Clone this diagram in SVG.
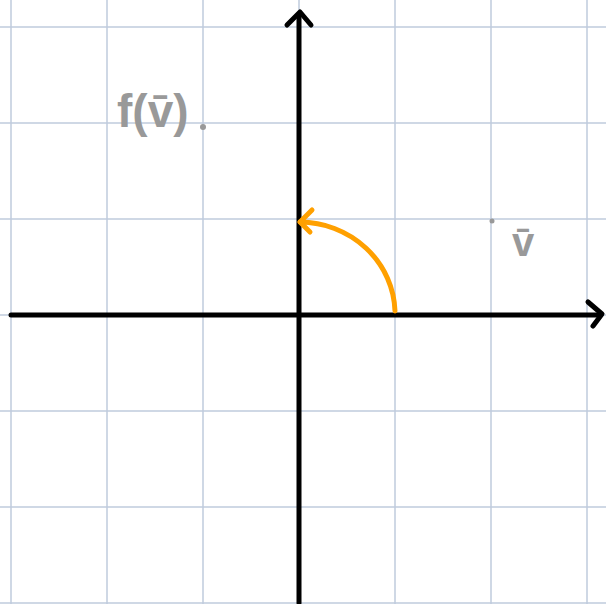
<svg xmlns="http://www.w3.org/2000/svg" width="606" height="604" viewBox="0 0 606 604">
<style>
.grid line{stroke:#bfcbdd;stroke-width:1.5}
.axis{stroke:#000;stroke-width:5;fill:none;stroke-linecap:round;stroke-linejoin:round}
.arc{stroke:#ffa000;stroke-width:5;fill:none;stroke-linecap:round;stroke-linejoin:round}
.lbl{fill:#999;font-family:"Liberation Sans","DejaVu Sans",sans-serif;font-weight:bold}
</style>
<rect width="606" height="604" fill="#fff"/>
<g class="grid">
<line x1="11" y1="0" x2="11" y2="604"/>
<line x1="107" y1="0" x2="107" y2="604"/>
<line x1="203" y1="0" x2="203" y2="604"/>
<line x1="299" y1="0" x2="299" y2="604"/>
<line x1="395" y1="0" x2="395" y2="604"/>
<line x1="491" y1="0" x2="491" y2="604"/>
<line x1="587" y1="0" x2="587" y2="604"/>
<line x1="0" y1="27" x2="606" y2="27"/>
<line x1="0" y1="123" x2="606" y2="123"/>
<line x1="0" y1="219" x2="606" y2="219"/>
<line x1="0" y1="315" x2="606" y2="315"/>
<line x1="0" y1="411" x2="606" y2="411"/>
<line x1="0" y1="507" x2="606" y2="507"/>
<line x1="0" y1="603" x2="606" y2="603"/>
</g>
<g id="connectors">
<g id="x-axis">
<path class="axis" d="M11 315 H600"/>
<path class="axis" d="M588 302 L602 314 L593 326"/>
</g>
<g id="y-axis">
<path class="axis" d="M299 603 V14"/>
<path class="axis" d="M287 25 L300 12 L311 25"/>
</g>
<g id="rotation-arc">
<path class="arc" d="M395 311 A96 92 0 0 0 300 222"/>
<path class="arc" d="M312 210 L300 222 L310 232"/>
</g>
</g>
<g id="label-f">
<text class="lbl" x="117" y="127" font-size="46">f(v̄)</text>
<circle cx="203" cy="127" r="3" fill="#999"/>
</g>
<g id="label-v">
<circle cx="492" cy="221" r="2.5" fill="#999"/>
<text class="lbl" x="512" y="256" font-size="40">v̄</text>
</g>
</svg>
